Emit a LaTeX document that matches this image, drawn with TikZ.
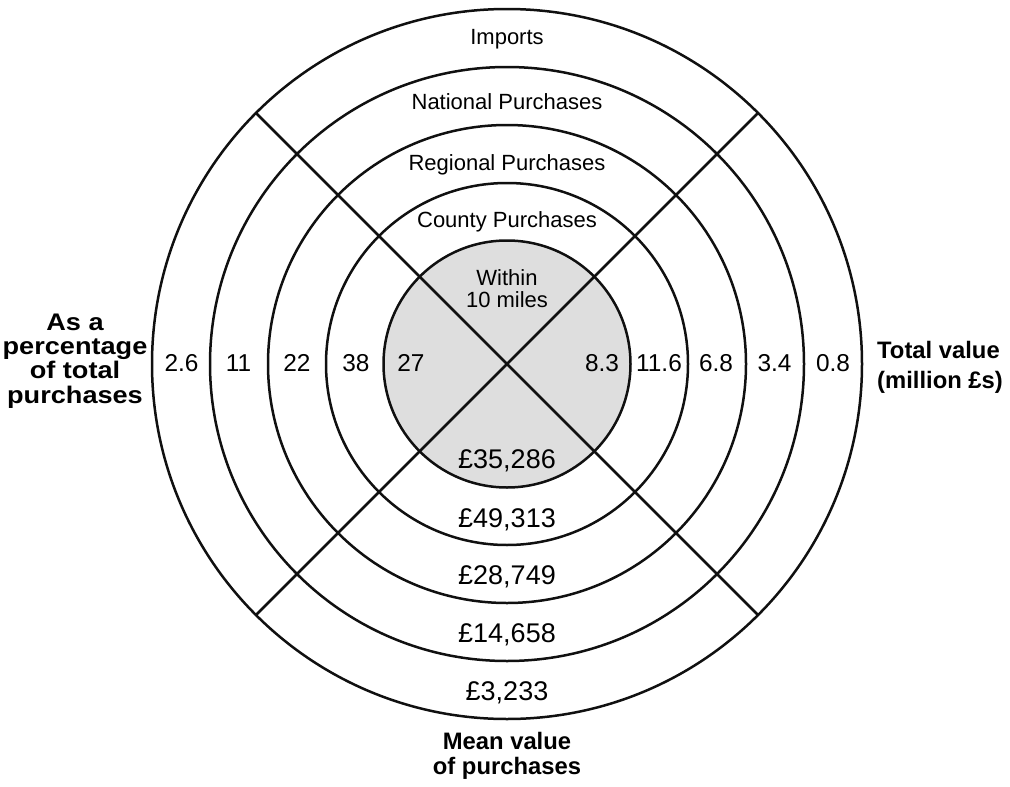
\documentclass[tikz,border=0pt]{standalone}
\usepackage{fontspec}
\setmainfont{Liberation Sans}
\newfontfamily\widesans[FakeStretch=1.13]{Liberation Sans}
\definecolor{ringcolor0000}{RGB}{222,222,222}
\definecolor{ringcolor0001}{RGB}{16,16,16}

\begin{document}
\begin{tikzpicture}[yscale=-1
,rstyle0/.style={color=ringcolor0001,line width=2.5pt}
,rstyle1/.style={color=ringcolor0001,fill=ringcolor0000,line width=2.5pt}
,tstyle0/.style={color=black,inner sep=0pt,text depth=0pt,font=\fontsize{22}{21.6}\selectfont,align=center}
,tstyle1/.style={color=black,inner sep=0pt,text depth=0pt,font=\fontsize{24.4}{26}\selectfont}
,tstyle2/.style={color=black,inner sep=0pt,text depth=0pt,font=\fontsize{27}{28}\selectfont}
,tstyle3/.style={color=black,inner sep=0pt,text depth=0pt,font=\bfseries\fontsize{23.8}{24.4}\selectfont,align=center}
]
\useasboundingbox (0pt,0pt) rectangle (1010pt,787pt);
\draw[rstyle1] (507pt,364pt) circle (123.5pt);
\draw[rstyle0] (507pt,364pt) circle (181pt);
\draw[rstyle0] (507pt,364pt) circle (239pt);
\draw[rstyle0] (507pt,364pt) circle (297pt);
\draw[rstyle0] (507pt,364pt) circle (355pt);
\draw[rstyle0] (256pt,113pt) -- (758pt,615pt);
\draw[rstyle0] (758pt,113pt) -- (256pt,615pt);
\node (imports) at (507pt,37pt)[tstyle0]{Imports};
\node (national) at (507pt,102pt)[tstyle0]{National Purchases};
\node (regional) at (507pt,163pt)[tstyle0]{Regional Purchases};
\node (county) at (507pt,220pt)[tstyle0]{County Purchases};
\node (within) at (507pt,288.3pt)[tstyle0]{Within\\10 miles};
\node (pcimp) at (181.5pt,363pt)[tstyle1]{2.6};
\node (pcnat) at (238.5pt,363pt)[tstyle1]{11};
\node (pcreg) at (297pt,363pt)[tstyle1]{22};
\node (pccty) at (356pt,363pt)[tstyle1]{38};
\node (pcwtn) at (411pt,363pt)[tstyle1]{27};
\node (tvwtn) at (602pt,363pt)[tstyle1]{8.3};
\node (tvcty) at (659pt,363pt)[tstyle1]{11.6};
\node (tvreg) at (716pt,363pt)[tstyle1]{6.8};
\node (tvnat) at (774.5pt,363pt)[tstyle1]{3.4};
\node (tvimp) at (833pt,363pt)[tstyle1]{0.8};
\node (mvwtn) at (507pt,459pt)[tstyle2]{£35,286};
\node (mvcty) at (507pt,518pt)[tstyle2]{£49,313};
\node (mvreg) at (507pt,575pt)[tstyle2]{£28,749};
\node (mvnat) at (507pt,633pt)[tstyle2]{£14,658};
\node (mvimp) at (507pt,691pt)[tstyle2]{£3,233};
\node (pctitle) at (75pt,358.5pt)[tstyle3,font=\widesans\bfseries\fontsize{24}{24.4}\selectfont]{As a\\percentage\\of total\\purchases};
\node (tvtitle) at (877pt,364.4pt)[tstyle3,anchor=west,align=left,font=\bfseries\fontsize{23.8}{30}\selectfont]{Total value\\(million £s)};
\node (mvtitle) at (507pt,753.5pt)[tstyle3]{Mean value\\of purchases};
\end{tikzpicture}
\end{document}
